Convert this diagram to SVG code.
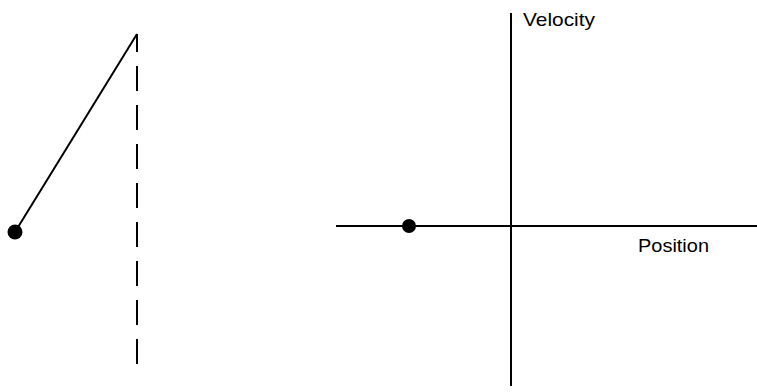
<svg xmlns="http://www.w3.org/2000/svg" width="757" height="392" viewBox="0 0 757 392">
<style>
.ln{stroke:#000;stroke-width:2;fill:none}
.dash{stroke:#000;stroke-width:2;fill:none;stroke-dasharray:25 14;stroke-dashoffset:7}
.ball{fill:#000}
.lbl{font-family:"Liberation Sans",Arial,sans-serif;font-size:19px;fill:#000}
</style>
<rect width="757" height="392" fill="#fff"/>
<g id="pendulum">
<line class="dash" x1="137" y1="34" x2="137" y2="368"/>
<line class="ln" x1="15" y1="232" x2="137" y2="34"/>
<circle class="ball" cx="15" cy="232" r="7.5"/>
</g>
<g id="phase-plot">
<line class="ln" x1="511" y1="13" x2="511" y2="386"/>
<line class="ln" x1="336" y1="226" x2="757" y2="226"/>
<circle class="ball" cx="409" cy="226" r="7"/>
<text class="lbl" x="523" y="26" textLength="72" lengthAdjust="spacingAndGlyphs">Velocity</text>
<text class="lbl" x="638" y="252" textLength="71" lengthAdjust="spacingAndGlyphs">Position</text>
</g>
</svg>
